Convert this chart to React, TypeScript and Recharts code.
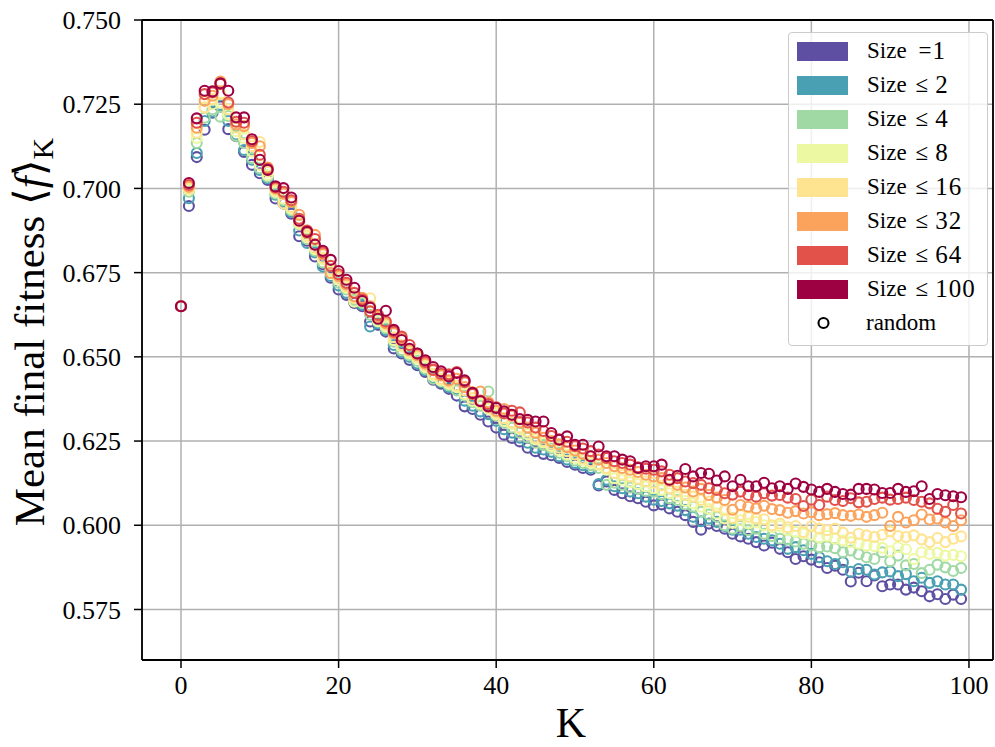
import { ScatterChart, Scatter, XAxis, YAxis, CartesianGrid, ReferenceLine, Legend } from 'recharts';

// K = 0 .. 99
const K_VALUES = Array.from({ length: 100 }, (_, i) => i);

const SIZE_1 = [
  0.6650, 0.6948, 0.7093, 0.7174, 0.7225, 0.7243, 0.7176, 0.7155, 0.7108, 0.7070,
  0.7045, 0.7025, 0.6970, 0.6955, 0.6925, 0.6858, 0.6845, 0.6798, 0.6775, 0.6735,
  0.6700, 0.6684, 0.6660, 0.6650, 0.6605, 0.6595, 0.6575, 0.6525, 0.6510, 0.6491,
  0.6475, 0.6455, 0.6432, 0.6420, 0.6405, 0.6385, 0.6353, 0.6345, 0.6328, 0.6308,
  0.6290, 0.6269, 0.6259, 0.6249, 0.6230, 0.6220, 0.6212, 0.6208, 0.6200, 0.6188,
  0.6180, 0.6170, 0.6165, 0.6118, 0.6130, 0.6105, 0.6095, 0.6086, 0.6080, 0.6070,
  0.6059, 0.6062, 0.6050, 0.6040, 0.6030, 0.6010, 0.5987, 0.6005, 0.5998, 0.5990,
  0.5975, 0.5967, 0.5960, 0.5950, 0.5940, 0.5948, 0.5930, 0.5920, 0.5900, 0.5908,
  0.5898, 0.5890, 0.5873, 0.5880, 0.5868, 0.5833, 0.5859, 0.5834, 0.5851, 0.5819,
  0.5824, 0.5824, 0.5809, 0.5815, 0.5804, 0.5789, 0.5795, 0.5781, 0.5794, 0.5781,
];

const SIZE_2 = [
  0.6650, 0.6971, 0.7105, 0.7200, 0.7228, 0.7248, 0.7200, 0.7160, 0.7114, 0.7085,
  0.7055, 0.7030, 0.6981, 0.6962, 0.6930, 0.6875, 0.6838, 0.6810, 0.6768, 0.6740,
  0.6712, 0.6690, 0.6665, 0.6655, 0.6590, 0.6600, 0.6580, 0.6535, 0.6515, 0.6500,
  0.6480, 0.6460, 0.6438, 0.6425, 0.6410, 0.6405, 0.6370, 0.6355, 0.6338, 0.6330,
  0.6310, 0.6285, 0.6275, 0.6260, 0.6245, 0.6230, 0.6225, 0.6218, 0.6205, 0.6195,
  0.6185, 0.6178, 0.6170, 0.6122, 0.6135, 0.6116, 0.6110, 0.6100, 0.6095, 0.6085,
  0.6076, 0.6072, 0.6065, 0.6058, 0.6045, 0.6025, 0.6012, 0.6020, 0.6010, 0.5998,
  0.5987, 0.5987, 0.5975, 0.5965, 0.5960, 0.5955, 0.5945, 0.5930, 0.5935, 0.5926,
  0.5915, 0.5905, 0.5893, 0.5885, 0.5890, 0.5862, 0.5870, 0.5868, 0.5854, 0.5860,
  0.5863, 0.5849, 0.5855, 0.5834, 0.5844, 0.5829, 0.5834, 0.5824, 0.5824, 0.5809,
];

const SIZE_4 = [
  0.6650, 0.6990, 0.7135, 0.7210, 0.7235, 0.7213, 0.7215, 0.7156, 0.7135, 0.7090,
  0.7060, 0.7035, 0.6985, 0.6965, 0.6935, 0.6893, 0.6850, 0.6815, 0.6780, 0.6748,
  0.6720, 0.6700, 0.6670, 0.6660, 0.6625, 0.6610, 0.6585, 0.6545, 0.6520, 0.6505,
  0.6488, 0.6465, 0.6435, 0.6428, 0.6415, 0.6400, 0.6385, 0.6365, 0.6355, 0.6397,
  0.6325, 0.6305, 0.6290, 0.6275, 0.6260, 0.6245, 0.6238, 0.6228, 0.6215, 0.6205,
  0.6192, 0.6185, 0.6178, 0.6170, 0.6120, 0.6126, 0.6120, 0.6112, 0.6108, 0.6102,
  0.6100, 0.6092, 0.6080, 0.6075, 0.6062, 0.6055, 0.6040, 0.6032, 0.6025, 0.6000,
  0.5990, 0.5998, 0.5985, 0.5990, 0.5975, 0.5968, 0.5960, 0.5958, 0.5952, 0.5945,
  0.5940, 0.5935, 0.5937, 0.5932, 0.5920, 0.5925, 0.5914, 0.5905, 0.5900, 0.5920,
  0.5893, 0.5910, 0.5881, 0.5885, 0.5858, 0.5868, 0.5883, 0.5875, 0.5864, 0.5873,
];

const SIZE_8 = [
  0.6650, 0.6996, 0.7150, 0.7240, 0.7250, 0.7255, 0.7220, 0.7170, 0.7150, 0.7110,
  0.7070, 0.7040, 0.6990, 0.6970, 0.6940, 0.6895, 0.6855, 0.6820, 0.6790, 0.6755,
  0.6728, 0.6705, 0.6664, 0.6670, 0.6635, 0.6605, 0.6590, 0.6550, 0.6530, 0.6510,
  0.6495, 0.6470, 0.6445, 0.6430, 0.6420, 0.6410, 0.6390, 0.6370, 0.6360, 0.6345,
  0.6330, 0.6310, 0.6300, 0.6285, 0.6270, 0.6255, 0.6245, 0.6235, 0.6222, 0.6210,
  0.6200, 0.6192, 0.6185, 0.6178, 0.6165, 0.6140, 0.6135, 0.6128, 0.6122, 0.6115,
  0.6110, 0.6105, 0.6095, 0.6085, 0.6072, 0.6065, 0.6055, 0.6048, 0.6035, 0.6020,
  0.6007, 0.6015, 0.6005, 0.6010, 0.6000, 0.5995, 0.5998, 0.5985, 0.5980, 0.5975,
  0.5972, 0.5964, 0.5968, 0.5960, 0.5955, 0.5950, 0.5945, 0.5940, 0.5938, 0.5933,
  0.5923, 0.5935, 0.5929, 0.5900, 0.5920, 0.5915, 0.5918, 0.5910, 0.5912, 0.5908,
];

const SIZE_16 = [
  0.6650, 0.7000, 0.7165, 0.7240, 0.7265, 0.7280, 0.7235, 0.7180, 0.7160, 0.7125,
  0.7138, 0.7050, 0.6995, 0.6955, 0.6945, 0.6900, 0.6860, 0.6825, 0.6795, 0.6760,
  0.6735, 0.6710, 0.6675, 0.6665, 0.6674, 0.6615, 0.6595, 0.6558, 0.6535, 0.6515,
  0.6500, 0.6475, 0.6450, 0.6435, 0.6425, 0.6415, 0.6400, 0.6378, 0.6365, 0.6350,
  0.6335, 0.6318, 0.6305, 0.6290, 0.6278, 0.6260, 0.6250, 0.6242, 0.6230, 0.6220,
  0.6210, 0.6198, 0.6190, 0.6182, 0.6170, 0.6155, 0.6150, 0.6145, 0.6138, 0.6130,
  0.6126, 0.6118, 0.6110, 0.6100, 0.6090, 0.6085, 0.6075, 0.6070, 0.6055, 0.6045,
  0.6022, 0.6030, 0.6025, 0.6020, 0.6018, 0.6000, 0.6005, 0.5994, 0.5998, 0.5980,
  0.5997, 0.5990, 0.5985, 0.5990, 0.5978, 0.5963, 0.5975, 0.5970, 0.5965, 0.5972,
  0.5982, 0.5968, 0.5965, 0.5970, 0.5958, 0.5950, 0.5962, 0.5950, 0.5960, 0.5967,
];

const SIZE_32 = [
  0.6650, 0.7005, 0.7180, 0.7260, 0.7275, 0.7317, 0.7250, 0.7190, 0.7185, 0.7135,
  0.7125, 0.7062, 0.7000, 0.6985, 0.6960, 0.6922, 0.6868, 0.6862, 0.6805, 0.6749,
  0.6740, 0.6715, 0.6680, 0.6675, 0.6650, 0.6620, 0.6600, 0.6570, 0.6555, 0.6520,
  0.6505, 0.6480, 0.6460, 0.6445, 0.6430, 0.6435, 0.6410, 0.6395, 0.6397, 0.6365,
  0.6340, 0.6345, 0.6325, 0.6305, 0.6290, 0.6275, 0.6260, 0.6250, 0.6240, 0.6232,
  0.6222, 0.6212, 0.6205, 0.6195, 0.6185, 0.6175, 0.6170, 0.6165, 0.6158, 0.6150,
  0.6145, 0.6140, 0.6132, 0.6120, 0.6112, 0.6100, 0.6108, 0.6090, 0.6082, 0.6075,
  0.6046, 0.6060, 0.6055, 0.6050, 0.6058, 0.6048, 0.6045, 0.6037, 0.6042, 0.6035,
  0.6039, 0.6030, 0.6033, 0.6036, 0.6030, 0.6028, 0.6032, 0.6025, 0.6030, 0.6037,
  0.5998, 0.6025, 0.6008, 0.6015, 0.6032, 0.6017, 0.6020, 0.6008, 0.5998, 0.6015,
];

const SIZE_64 = [
  0.6650, 0.7010, 0.7195, 0.7280, 0.7285, 0.7310, 0.7255, 0.7198, 0.7195, 0.7140,
  0.7100, 0.7058, 0.7003, 0.6990, 0.6965, 0.6910, 0.6875, 0.6850, 0.6810, 0.6770,
  0.6745, 0.6720, 0.6690, 0.6670, 0.6635, 0.6625, 0.6605, 0.6575, 0.6560, 0.6535,
  0.6510, 0.6485, 0.6462, 0.6450, 0.6448, 0.6455, 0.6425, 0.6390, 0.6370, 0.6360,
  0.6350, 0.6332, 0.6340, 0.6335, 0.6305, 0.6290, 0.6280, 0.6265, 0.6255, 0.6248,
  0.6235, 0.6228, 0.6220, 0.6210, 0.6200, 0.6190, 0.6185, 0.6180, 0.6172, 0.6168,
  0.6165, 0.6160, 0.6150, 0.6140, 0.6130, 0.6125, 0.6120, 0.6110, 0.6105, 0.6095,
  0.6091, 0.6100, 0.6090, 0.6085, 0.6095, 0.6088, 0.6090, 0.6082, 0.6078, 0.6057,
  0.6076, 0.6060, 0.6085, 0.6075, 0.6072, 0.6080, 0.6068, 0.6070, 0.6078, 0.6082,
  0.6076, 0.6078, 0.6082, 0.6075, 0.6070, 0.6065, 0.6049, 0.6040, 0.6060, 0.6035,
];

const SIZE_100 = [
  0.6650, 0.7016, 0.7208, 0.7290, 0.7288, 0.7312, 0.7290, 0.7211, 0.7211, 0.7146,
  0.7085, 0.7055, 0.7006, 0.7001, 0.6973, 0.6904, 0.6871, 0.6833, 0.6815, 0.6788,
  0.6755, 0.6729, 0.6705, 0.6666, 0.6646, 0.6613, 0.6637, 0.6580, 0.6550, 0.6524,
  0.6510, 0.6490, 0.6470, 0.6457, 0.6442, 0.6452, 0.6430, 0.6393, 0.6368, 0.6353,
  0.6348, 0.6338, 0.6328, 0.6315, 0.6313, 0.6308, 0.6308, 0.6274, 0.6254, 0.6264,
  0.6239, 0.6239, 0.6205, 0.6234, 0.6205, 0.6205, 0.6195, 0.6190, 0.6170, 0.6175,
  0.6175, 0.6180, 0.6135, 0.6147, 0.6167, 0.6145, 0.6155, 0.6153, 0.6133, 0.6145,
  0.6116, 0.6135, 0.6116, 0.6116, 0.6126, 0.6110, 0.6116, 0.6108, 0.6124, 0.6114,
  0.6106, 0.6099, 0.6108, 0.6099, 0.6093, 0.6091, 0.6108, 0.6108, 0.6106, 0.6096,
  0.6096, 0.6108, 0.6099, 0.6101, 0.6116, 0.6078, 0.6093, 0.6089, 0.6086, 0.6083,
];

const SERIES = [
  { name: 'Size =1', op: '=', num: '1', color: '#5e4fa2', values: SIZE_1 },
  { name: 'Size \u2264 2', op: '\u2264', num: '2', color: '#48a0b2', values: SIZE_2 },
  { name: 'Size \u2264 4', op: '\u2264', num: '4', color: '#a1d9a4', values: SIZE_4 },
  { name: 'Size \u2264 8', op: '\u2264', num: '8', color: '#edf8a3', values: SIZE_8 },
  { name: 'Size \u2264 16', op: '\u2264', num: '16', color: '#fee491', values: SIZE_16 },
  { name: 'Size \u2264 32', op: '\u2264', num: '32', color: '#fba35d', values: SIZE_32 },
  { name: 'Size \u2264 64', op: '\u2264', num: '64', color: '#e2514a', values: SIZE_64 },
  { name: 'Size \u2264 100', op: '\u2264', num: '100', color: '#9e0142', values: SIZE_100 },
];

const X_TICKS = [0, 20, 40, 60, 80, 100];
const Y_TICKS = [0.575, 0.6, 0.625, 0.65, 0.675, 0.7, 0.725, 0.75];

const FONT = '"Liberation Serif", "DejaVu Serif", serif';

const Ring = (color: string) => (props: any) => {
  if (props.cx == null || props.cy == null) return <g />;
  return <circle cx={props.cx} cy={props.cy} r={5} fill="none" stroke={color} strokeWidth={2.1} />;
};

function LegendBox() {
  return (
    <div style={{
      width: 200, height: 314, boxSizing: 'border-box', border: '1px solid #cccccc',
      borderRadius: 4, background: 'rgba(255,255,255,0.8)', fontFamily: FONT, fontSize: 23,
      paddingTop: 1, color: '#000',
    }}>
      {SERIES.map(s => (
        <div key={s.name} style={{ height: 34, display: 'flex', alignItems: 'center' }}>
          <div style={{ width: 51, height: 19, marginLeft: 8, background: s.color }} />
          <span style={{ marginLeft: 19 }}>Size</span>
          <span style={{ marginLeft: s.op === '=' ? 12 : 9 }}>{s.op}</span>
          <span style={{ marginLeft: s.op === '=' ? 1 : 7, fontSize: 25, letterSpacing: 1 }}>{s.num}</span>
        </div>
      ))}
      <div style={{ height: 34, display: 'flex', alignItems: 'center' }}>
        <svg width={70} height={20}>
          <circle cx={34.5} cy={10} r={5} fill="none" stroke="#000" strokeWidth={2.1} />
        </svg>
        <span style={{ marginLeft: 7 }}>random</span>
      </div>
    </div>
  );
}

const YLabel = () => (
  <text transform="translate(44, 332) rotate(-90)" textAnchor="middle" fontSize={43} fontFamily={FONT} fill="#000">
    Mean final fitness {'\u27E8'}<tspan fontStyle="italic">f</tspan>{'\u27E9'}<tspan dy={9} fontSize={30}>K</tspan>
  </text>
);

const XLabel = () => (
  <text x={571} y={737} textAnchor="middle" fontSize={42} fontFamily={FONT} fill="#000">K</text>
);

export default function App() {
  return (
    <div style={{ position: 'absolute', left: 0, top: 0, width: 995, height: 747, background: '#fff' }}>
      <ScatterChart width={995} height={747} margin={{ top: 20, right: 2, bottom: 27, left: 82 }}>
        <CartesianGrid stroke="#b0b0b0" strokeWidth={1.5} />
        <XAxis
          type="number"
          dataKey="k"
          domain={[-4.95, 103.05]}
          ticks={X_TICKS}
          allowDataOverflow
          height={60}
          axisLine={{ stroke: '#000', strokeWidth: 1.8 }}
          tickLine={{ stroke: '#000', strokeWidth: 1.5 }}
          tickSize={8}
          tickMargin={8}
          tick={{ fill: '#000', fontSize: 26, fontFamily: FONT }}
          label={<XLabel />}
        />
        <YAxis
          type="number"
          dataKey="v"
          domain={[0.56, 0.75]}
          ticks={Y_TICKS}
          allowDataOverflow
          width={60}
          axisLine={{ stroke: '#000', strokeWidth: 1.8 }}
          tickLine={{ stroke: '#000', strokeWidth: 1.5 }}
          tickSize={8}
          tickMargin={13}
          tick={{ fill: '#000', fontSize: 26, fontFamily: FONT }}
          tickFormatter={(v: number) => v.toFixed(3)}
          label={<YLabel />}
        />
        <ReferenceLine y={0.75} stroke="#000" strokeWidth={1.8} />
        <ReferenceLine x={103.05} stroke="#000" strokeWidth={1.8} />
        {SERIES.map(s => (
          <Scatter
            key={s.name}
            name={s.name}
            data={K_VALUES.map((k, i) => ({ k, v: s.values[i] }))}
            shape={Ring(s.color)}
            isAnimationActive={false}
          />
        ))}
        <Legend
          layout="vertical"
          align="center"
          verticalAlign="middle"
          wrapperStyle={{ position: 'absolute', left: 788, top: 32, width: 200, height: 314 }}
          content={() => <LegendBox />}
        />
      </ScatterChart>
    </div>
  );
}
